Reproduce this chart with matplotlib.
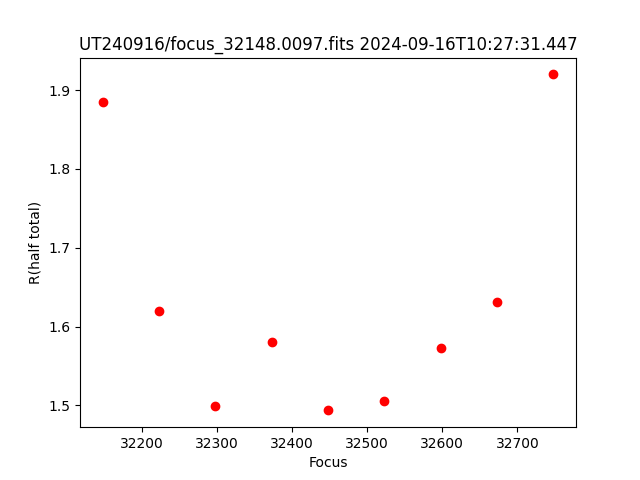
import matplotlib
matplotlib.use('Agg')
import matplotlib.pyplot as plt

# focus positions and half-total radius
focus = [32148, 32223, 32298, 32373, 32448, 32523, 32598, 32673, 32748]
r_half = [1.885, 1.620, 1.4996, 1.5804, 1.4937, 1.506, 1.5733, 1.6317, 1.9199]

title = 'UT240916/focus_32148.0097.fits 2024-09-16T10:27:31.447'

fig = plt.figure(figsize=(6.4, 4.8), dpi=100)
plt.plot(focus, r_half, 'ro')
plt.title(title)
plt.xlabel('Focus')
plt.ylabel('R(half total)')
plt.savefig('out.png', dpi=100)
plt.close()
